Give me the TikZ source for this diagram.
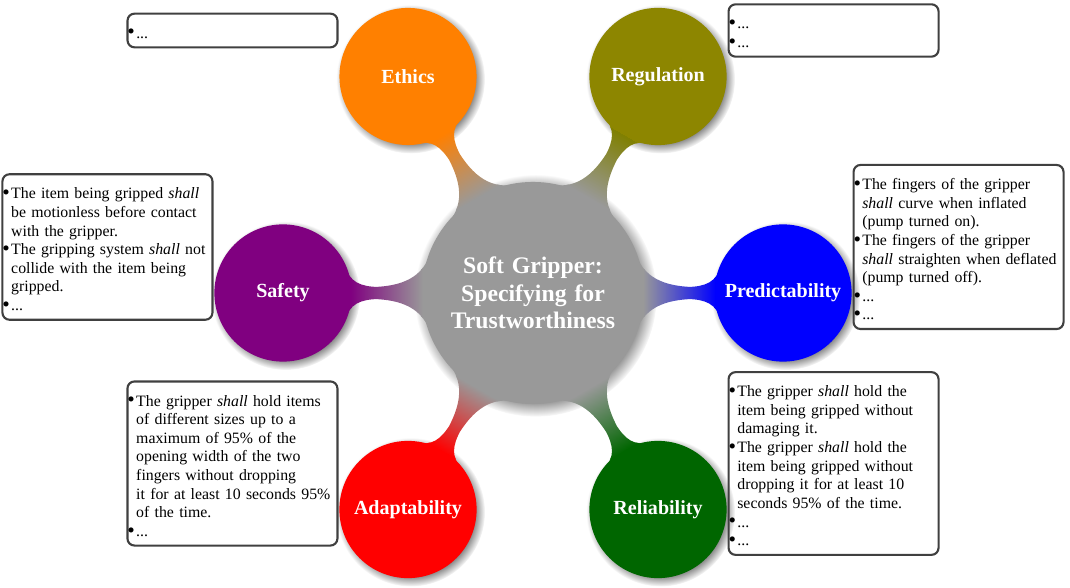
\documentclass[tikz,border=0pt]{standalone}
\usepackage{fontspec}
\setmainfont{Liberation Serif}
\usetikzlibrary{mindmap,shadows,positioning}

\newcommand{\notebul}{\makebox[5pt][l]{\raisebox{-0.4pt}{\scalebox{1.35}{\textbullet}}}}
\newcommand{\notecont}{\hspace*{5pt}}

\begin{document}
\begin{tikzpicture}[mindmap,
    hub/.style={concept, concept color=gray!80, circular drop shadow, minimum size=4.4cm, text width=4cm, align=center, text=white, font=\bfseries\fontsize{13.5}{15.5}\selectfont},
    topic/.style={concept, circular drop shadow, minimum size=2.7cm, text width=2.6cm, align=center, text=white, font=\bfseries\fontsize{11.4}{13}\selectfont},
    reqbox/.style={draw=black!75, rounded corners=4pt, minimum size=0pt, text width=4.2cm, align=left, inner xsep=0pt, inner ysep=2pt, font=\fontsize{9}{10.6}\selectfont, execute at begin node=\rule{0pt}{12pt}, execute at end node=\strut}]

\useasboundingbox (-10.66,-5.9) rectangle (10.74,5.86);

\node [hub] (spec) at (0,0) {Soft Gripper:\\Specifying for\\Trustworthiness};

\node [topic, concept color=orange] (ethics) at (120:5) {Ethics};
\node [topic, concept color=olive] (regulation) at (60:5) {Regulation};
\node [topic, concept color=blue] (predict) at (0:5) {Predictability};
\node [topic, concept color=green!40!black] (reliab) at (-60:5) {Reliability};
\node [topic, concept color=red] (adapt) at (-120:5) {Adaptability};
\node [topic, concept color=violet] (safety) at (180:5) {Safety};

\foreach \topicname/\topiccol in {ethics/orange, regulation/olive, predict/blue, reliab/green!40!black, adapt/red, safety/violet}{
    \path (spec) to[circle connection bar switch color=from (gray!80) to (\topiccol)] (\topicname);
}

% requirement boxes
\node [reqbox, left=0.6mm of ethics, yshift=9.2mm] (ethicsreq) {\notebul...};
\node [reqbox, right=0.6mm of regulation, yshift=9.2mm] (regulationreq) {\notebul...\\\notebul...};
\node [reqbox, right=0.6mm of predict, yshift=9.2mm] (predictreq) {\notebul The fingers of the gripper\\
    \notecont\emph{shall} curve when inflated\\
    \notecont(pump turned on).\\
    \notebul The fingers of the gripper\\
    \notecont\emph{shall} straighten when deflated\\
    \notecont(pump turned off).\\
    \notebul...\\
    \notebul...};
\node [reqbox, right=0.6mm of reliab, yshift=9.2mm] (reliabreq) {\notebul The gripper \emph{shall} hold the\\
    \notecont item being gripped without\\
    \notecont damaging it.\\
    \notebul The gripper \emph{shall} hold the\\
    \notecont item being gripped without\\
    \notecont dropping it for at least 10\\
    \notecont seconds 95\% of the time.\\
    \notebul...\\
    \notebul...};
\node [reqbox, left=0.6mm of adapt, yshift=9.2mm] (adaptreq) {\notebul The gripper \emph{shall} hold items\\
    \notecont of different sizes up to a\\
    \notecont maximum of 95\% of the\\
    \notecont opening width of the two\\
    \notecont fingers without dropping\\
    \notecont it for at least 10 seconds 95\%\\
    \notecont of the time.\\
    \notebul...};
\node [reqbox, left=0.6mm of safety, yshift=9.2mm] (safetyreq) {\notebul The item being gripped \emph{shall}\\
    \notecont be motionless before contact\\
    \notecont with the gripper.\\
    \notebul The gripping system \emph{shall} not\\
    \notecont collide with the item being\\
    \notecont gripped.\\
    \notebul...};

\end{tikzpicture}
\end{document}
